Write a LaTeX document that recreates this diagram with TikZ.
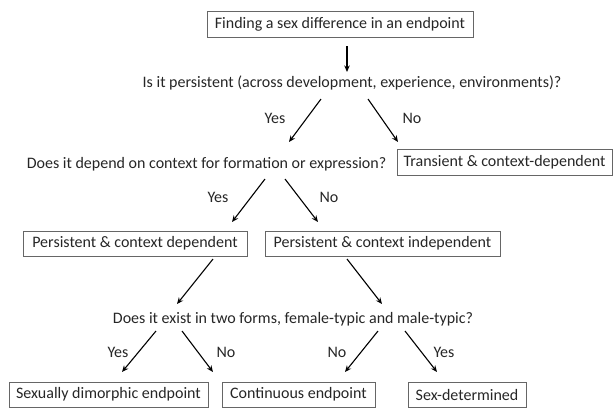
\documentclass[tikz,border=0pt]{standalone}
\usepackage{fontspec}
\setmainfont{Carlito}
\usetikzlibrary{arrows.meta}
\begin{document}
\begin{tikzpicture}[x=1pt,y=-1pt,
  txt/.style={font=\fontsize{16}{18}\selectfont, text=black!85, inner sep=0pt},
  box/.style={txt, draw=black!60, line width=0.9pt, minimum height=26pt, inner sep=0pt},
  lbl/.style={txt},
  arr/.style={line width=1.1pt, -{Stealth[length=6.5pt,width=5.5pt]}}]
\useasboundingbox (0,0) rectangle (614,408);
% nodes
\node[box, minimum width=266pt] (top) at (340,24) {Finding a sex difference in an endpoint};
\node[txt] (q1) at (352,83) {Is it persistent (across development, experience, environments)?};
\node[txt] (q2) at (206.5,164) {Does it depend on context for formation or expression?};
\node[box, minimum width=215pt] (trans) at (504.5,162.5) {Transient \& context-dependent};
\node[box, minimum width=224pt, minimum height=25pt] (pcd) at (135,243.5) {Persistent \& context dependent};
\node[box, minimum width=235pt, minimum height=25pt] (pci) at (382.5,243.5) {Persistent \& context independent};
\node[txt] (q3) at (293,319) {Does it exist in two forms, female-typic and male-typic?};
\node[box, minimum width=199pt, minimum height=25pt] (sd) at (108.5,394.5) {Sexually dimorphic endpoint};
\node[box, minimum width=153pt, minimum height=25pt] (ce) at (298.5,394.5) {Continuous endpoint};
\node[box, minimum width=118pt, minimum height=25pt] (sdet) at (467,394.5) {Sex-determined};
% arrow end points
\coordinate (a0s) at (347,46);  \coordinate (a0e) at (347,72);
\coordinate (a1s) at (321,99);  \coordinate (a1e) at (289,142);
\coordinate (a2s) at (368,99);  \coordinate (a2e) at (398,142);
\coordinate (a3s) at (265,179); \coordinate (a3e) at (232,222);
\coordinate (a4s) at (285,179); \coordinate (a4e) at (318,222);
\coordinate (a5s) at (213,259); \coordinate (a5e) at (177,304);
\coordinate (a6s) at (347,259); \coordinate (a6e) at (382,304);
\coordinate (a7s) at (156,331); \coordinate (a7e) at (122,372);
\coordinate (a8s) at (182,331); \coordinate (a8e) at (213,372);
\coordinate (a9s) at (378,331); \coordinate (a9e) at (345,372);
\coordinate (a10s) at (405,331); \coordinate (a10e) at (437,372);
% arrows
\draw[arr] (a0s) -- (a0e);
\draw[arr] (a1s) -- (a1e);
\draw[arr] (a2s) -- (a2e);
\draw[arr] (a3s) -- (a3e);
\draw[arr] (a4s) -- (a4e);
\draw[arr] (a5s) -- (a5e);
\draw[arr] (a6s) -- (a6e);
\draw[arr] (a7s) -- (a7e);
\draw[arr] (a8s) -- (a8e);
\draw[arr] (a9s) -- (a9e);
\draw[arr] (a10s) -- (a10e);
% labels
\node[lbl] (l1) at (275,118) {Yes};
\node[lbl] (l2) at (412,118) {No};
\node[lbl] (l3) at (218,197) {Yes};
\node[lbl] (l4) at (329,197) {No};
\node[lbl] (l5) at (118,352) {Yes};
\node[lbl] (l6) at (226,352) {No};
\node[lbl] (l7) at (337,352) {No};
\node[lbl] (l8) at (444,352) {Yes};
\end{tikzpicture}
\end{document}
